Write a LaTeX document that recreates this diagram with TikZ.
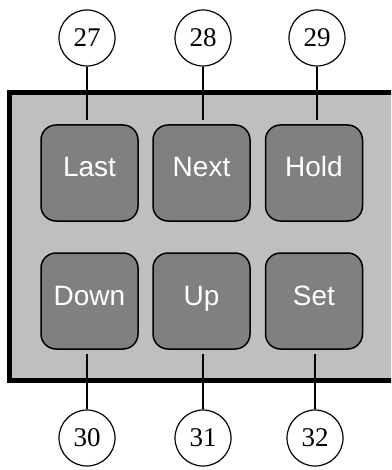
\documentclass[tikz,border=0pt]{standalone}
\usepackage{fontspec}
\setmainfont{Liberation Serif}
\newfontfamily\keyfont{Liberation Sans}
\usetikzlibrary{positioning}
\definecolor{panelgray}{gray}{0.75}
\definecolor{keygray}{gray}{0.5}

\begin{document}
\begin{tikzpicture}[x=1pt,y=-1pt]
\tikzstyle{key}=[draw=black, line width=1.5pt, fill=keygray, rounded corners=15pt, minimum width=97pt, minimum height=96pt, inner sep=0pt, text=white, font=\keyfont\fontsize{28}{28}\selectfont, text height=16pt, text depth=8pt]
\tikzstyle{callout}=[draw=black, line width=1.2pt, circle, minimum size=56pt, inner sep=0pt, font=\fontsize{27}{27}\selectfont]
\tikzstyle{lead}=[black, line width=1.2pt]
\useasboundingbox (0,0) rectangle (391,470);
\clip (0,0) rectangle (391,470);
% panel
\draw [black, line width=5pt, fill=panelgray] (9.5,92.5) rectangle (420,380.5);
% keys
\node [key] (last) at (89.5,173) {Last};
\node [key] (next) at (201.5,173) {Next};
\node [key] (hold) at (314,173) {Hold};
\node [key] (down) at (89.5,301) {Down};
\node [key] (up) at (201.5,301) {Up};
\node [key] (set) at (314,301) {Set};
% callouts
\node [callout] (c27) at (87,38) {27};
\node [callout] (c28) at (203,38) {28};
\node [callout] (c29) at (317,38) {29};
\node [callout] (c30) at (87,438) {30};
\node [callout] (c31) at (203,438) {31};
\node [callout] (c32) at (315,438) {32};
\draw [lead, shorten >=4pt] (c27) -- (c27 |- last.north);
\draw [lead, shorten >=4pt] (c28) -- (c28 |- next.north);
\draw [lead, shorten >=4pt] (c29) -- (c29 |- hold.north);
\draw [lead, shorten <=4pt] (c30 |- down.south) -- (c30);
\draw [lead, shorten <=4pt] (c31 |- up.south) -- (c31);
\draw [lead, shorten <=4pt] (c32 |- set.south) -- (c32);
\end{tikzpicture}
\end{document}
